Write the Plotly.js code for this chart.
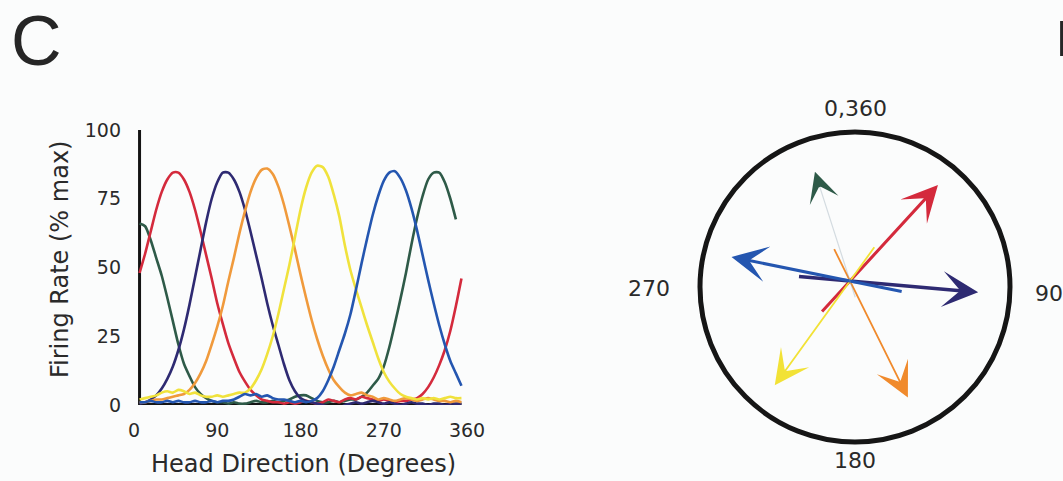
<!DOCTYPE html>
<html><head><meta charset="utf-8">
<script src="https://cdn.plot.ly/plotly-3.0.1.min.js"></script>
<style>html,body{margin:0;padding:0;background:#fbfcfc;}#chart{width:1063px;height:481px;}</style>
</head><body><div id="chart"></div>
<script>
// ---------------- data: tuning curves (panel C) ----------------
const headDirection = [6,12,18,24,30,36,42,48,54,60,66,72,78,84,90,96,102,108,114,120,126,132,138,144,150,156,162,168,174,180,186,192,198,204,210,216,222,228,234,240,246,252,258,264,270,276,282,288,294,300,306,312,318,324,330,336,342,348,354];
const rateRed = [48,55,63,71,77.5,82,84.5,84.5,82,77.5, 71,63,54.5,46,37,29.5,22.5,17,12,8.5, 5.5,3.5,2,1.5,1,1,0.5,1,0.5,1, 1.5,1,0.5,1,2,1.5,1,2,2.5,2, 3,2.5,2,1.5,2,1.5,1,1.5,1.5,2, 2.5,4,6.5,10,14.5,20,27,36,46];
const rateNavy = [0.5,1,2,3.5,6,9.5,14,20,27.5,36.5, 46.5,56.5,66.5,75,81,84.5,84.5,82,77.5,71, 63,54.5,46,37,29,22,15,9,5,2.5, 1.5,1,0.5,0,-0.5,-1,-1,0,0.5,1, 0.5,1,1.5,1,0.5,1,0.5,0,0.5,1, 0.5,0.5,0,0.5,0.5,0,0.5,0.5,0.5];
const rateOrange = [1,1,1.5,2,2,2.5,3,3.5,4,5.5, 8,11.5,16,22,28.5,36,45,53.5,62.5,70.5, 77.5,82.5,85.5,86,84,79.5,73,65,56.5,47.5, 39,31,24,18,13,9,6.5,4.5,3.5,4, 4.5,3.5,3,2,2.5,2,1.5,2,2.5,2, 1.5,2,2.5,2,1.5,1.5,1,1.5,1];
const rateYellow = [2,2.5,3,3.5,4.5,5,4.5,5.5,5,4, 4.5,3.5,3,3,3.5,3,3.5,4,4.5,4.5, 6,9,13,18.5,25,33,42,51,61,71, 79,84.5,87,86.5,83,76.5,68.5,58,49,42, 35.5,29,23,17,12,8.5,6,4,3,2.5, 2,2.5,2,2.5,2,2.5,3,2.5,2.5];
const rateBlue = [1,1,1.5,1,1,1.5,1,1.5,1,1, 1.5,1,1,1.5,1,1.5,1.5,2,3,4, 3.5,4,3,3.5,2.5,2,2,1.5,1,1.5, 1,1.5,2.5,5,9,14,20,26,33,42, 51.5,60.5,69,76,81.5,84.5,85,82.5,78,71.5, 63.5,54.5,45.5,37,29,22,16,11.5,7];
const rateGreen = [66,65,60,53.5,47,39,30.5,22,15,10.5, 6.5,4,2.5,1.5,1,1,0.5,1,0.5,0.5, 1,1.5,1,1,1.5,1,1.5,2,3,3.5, 3.5,2.5,1.5,1,1,1.5,1,1.5,2,2, 3,4.5,7,9.5,14,21,29.5,38.5,48,58.5, 68,76,82,84.5,84.5,81,75,67.5,null];
const xTicks = [0,90,180,270,360];
const yTicks = [0,25,50,75,100];

// ---------------- data: population vectors (panel on the right) ----------------
const preferredDirection = [42.5, 95, 153.6, 215.8, 281.5, 342.2]; // degrees clockwise from 0 (top)
const vectorLength = [0.84, 0.83, 0.84, 0.83, 0.78, 0.74];          // fraction of circle radius
const tailLength = [0.28, 0.34, 0.24, 0.28, 0.35, 0.12];
const dirLabels = ['0,360', '90', '180', '270'];

// ---------------- styles ----------------
const W = 1063, H = 481;
const colRed = '#d42a3c', colNavy = '#2e2a72', colOrange = '#f09a3c', colYellow = '#f0e23c', colBlue = '#2456b0', colGreen = '#2e5a48';
const txtCol = '#2a2a2a';
const FONT = 'DejaVu Sans';
const px = v => v / W;
const py = v => 1 - v / H;

const series = [
  {y: rateGreen, c: colGreen},
  {y: rateRed, c: colRed},
  {y: rateNavy, c: colNavy},
  {y: rateOrange, c: colOrange},
  {y: rateYellow, c: colYellow},
  {y: rateBlue, c: colBlue}
];
const traces = series.map(s => ({
  type: 'scatter', mode: 'lines', x: headDirection, y: s.y, xaxis: 'x', yaxis: 'y',
  line: {color: s.c, width: 2.6, shape: 'spline', smoothing: 0.7},
  connectgaps: false, hoverinfo: 'skip', showlegend: false
}));
traces.push({type: 'scatter', mode: 'markers', x: [], y: [], xaxis: 'x2', yaxis: 'y2', showlegend: false, hoverinfo: 'skip'});

// geometry of circle subplot: centre (855,287) px, radius 155 px
const cx = 855, cy = 287, R = 155;
const x2range = [-(cx - 646) / R, (1062.5 - cx) / R];
const y2range = [-1.25, 1.25];
const origin = [-5 / R, 6 / R];

const annotations = [
  {xref: 'paper', yref: 'paper', x: px(36), y: 1, text: 'C', showarrow: false,
   font: {family: 'Liberation Sans, Arial', size: 70, color: '#262626'}, xanchor: 'center', yanchor: 'top'},
  {xref: 'paper', yref: 'paper', x: px(1054), y: py(39), text: 'D', showarrow: false,
   font: {family: 'Liberation Sans, Arial', size: 50, color: '#262626'}, xanchor: 'left', yanchor: 'middle'},
  {xref: 'paper', yref: 'paper', x: px(303), y: py(464), text: 'Head Direction (Degrees)', showarrow: false,
   font: {family: FONT, size: 24, color: txtCol}, xanchor: 'center', yanchor: 'middle'},
  {xref: 'paper', yref: 'paper', x: px(60), y: py(260), text: 'Firing Rate (% max)', showarrow: false, textangle: -90,
   font: {family: FONT, size: 24, color: txtCol}, xanchor: 'center', yanchor: 'middle'},
  {xref: 'x2', yref: 'y2', x: 0, y: (cy - 109) / R, text: dirLabels[0], showarrow: false, font: {family: FONT, size: 22, color: txtCol}, xanchor: 'center', yanchor: 'middle'},
  {xref: 'x2', yref: 'y2', x: (1033 - cx) / R, y: (cy - 293) / R, text: dirLabels[1], showarrow: false, font: {family: FONT, size: 22, color: txtCol}, xanchor: 'left', yanchor: 'middle'},
  {xref: 'x2', yref: 'y2', x: 0, y: (cy - 460) / R, text: dirLabels[2], showarrow: false, font: {family: FONT, size: 22, color: txtCol}, xanchor: 'center', yanchor: 'middle'},
  {xref: 'x2', yref: 'y2', x: (672 - cx) / R, y: (cy - 288) / R, text: dirLabels[3], showarrow: false, font: {family: FONT, size: 22, color: txtCol}, xanchor: 'right', yanchor: 'middle'}
];

const vecColors = [colRed, colNavy, '#f08a2c', '#f2e236', colBlue, colGreen];
const vecWidths = [3, 3.5, 1.8, 1.8, 3, 1.5];
const headScale = [6, 6, 5.8, 5.8, 6, 5];   // arrowhead size in px per path unit
preferredDirection.forEach((d, i) => {
  const t = d * Math.PI / 180, ux = Math.sin(t), uy = Math.cos(t);
  const tip = [origin[0] + vectorLength[i] * ux, origin[1] + vectorLength[i] * uy];
  const tail = [origin[0] - tailLength[i] * ux, origin[1] - tailLength[i] * uy];
  if (i === 5) {
    annotations.push({xref: 'x2', yref: 'y2', axref: 'x2', ayref: 'y2', x: tip[0] - 0.08 * ux, y: tip[1] - 0.08 * uy, ax: tail[0], ay: tail[1],
      text: '', showarrow: true, arrowhead: 0, arrowwidth: 1.2, arrowcolor: 'rgba(140,160,175,0.35)', standoff: 0, startstandoff: 0});
    annotations.push({xref: 'x2', yref: 'y2', axref: 'x2', ayref: 'y2', x: tip[0], y: tip[1], ax: tip[0] - 0.1 * ux, ay: tip[1] - 0.1 * uy,
      text: '', showarrow: true, arrowhead: 3, arrowwidth: vecWidths[i], arrowsize: headScale[i] / vecWidths[i], arrowcolor: vecColors[i], standoff: 0, startstandoff: 0});
  } else {
    annotations.push({xref: 'x2', yref: 'y2', axref: 'x2', ayref: 'y2', x: tip[0], y: tip[1], ax: tail[0], ay: tail[1],
      text: '', showarrow: true, arrowhead: 3, arrowwidth: vecWidths[i], arrowsize: headScale[i] / vecWidths[i], arrowcolor: vecColors[i], standoff: 0, startstandoff: 0});
  }
});

const x0 = headDirection[0], x1 = headDirection[headDirection.length - 1];
const shapes = [
  {type: 'line', xref: 'x', yref: 'y', x0: x0, x1: x1, y0: 0, y1: 0, line: {color: '#141414', width: 4}, layer: 'below'},
  {type: 'line', xref: 'x', yref: 'y', x0: x0, x1: x0, y0: 0, y1: yTicks[yTicks.length - 1], line: {color: '#141414', width: 3}, layer: 'below'},
  {type: 'circle', xref: 'x2', yref: 'y2', x0: -1, x1: 1, y0: -1, y1: 1, line: {color: '#161616', width: 5}, layer: 'below'}
];

const layout = {
  width: W, height: H, margin: {l: 0, r: 0, t: 0, b: 0},
  paper_bgcolor: '#fbfcfc', plot_bgcolor: 'rgba(0,0,0,0)', showlegend: false,
  xaxis: {domain: [px(134), px(467)], range: [0, 360], tickvals: xTicks, ticks: '', showline: false, showgrid: false, zeroline: false,
          tickfont: {family: FONT, size: 19, color: txtCol}, ticklabelstandoff: 12, fixedrange: true},
  yaxis: {domain: [py(405), py(130)], range: [0, 100], tickvals: yTicks, ticks: '', showline: false, showgrid: false, zeroline: false,
          tickfont: {family: FONT, size: 19, color: txtCol}, ticklabelstandoff: 12, fixedrange: true},
  xaxis2: {domain: [px(646), px(1062.5)], range: x2range, anchor: 'y2', showline: false, showgrid: false, zeroline: false, showticklabels: false, ticks: ''},
  yaxis2: {domain: [py(cy + 1.25 * R), py(cy - 1.25 * R)], range: y2range, anchor: 'x2', showline: false, showgrid: false, zeroline: false, showticklabels: false, ticks: ''},
  annotations: annotations, shapes: shapes
};
Plotly.newPlot('chart', traces, layout, {staticPlot: true, displayModeBar: false});
</script></body></html>
